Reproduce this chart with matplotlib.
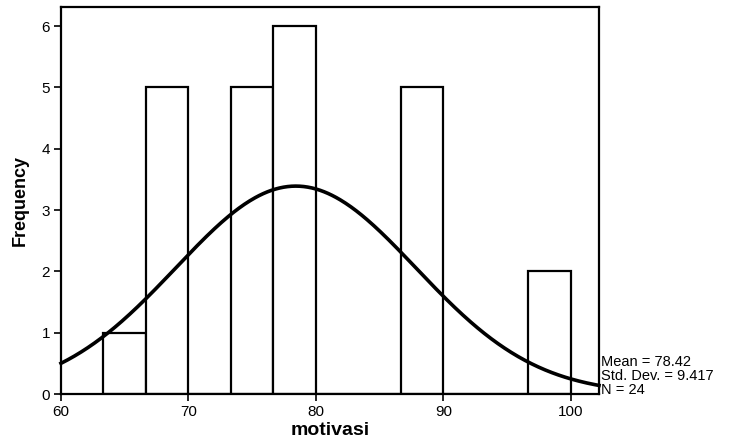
import numpy as np
import matplotlib
matplotlib.use("Agg")
import matplotlib.pyplot as plt

plt.rcParams['font.family'] = ['Liberation Sans', 'DejaVu Sans']

bin_edges = [63.333, 66.667, 70.0, 73.333, 76.667, 80.0, 83.333, 86.667, 90.0, 93.333, 96.667, 100.0]
counts = [1, 5, 0, 5, 6, 0, 0, 5, 0, 0, 2]
mean = 78.42
std = 9.417
n = 24
xticks = [60, 70, 80, 90, 100]
yticks = [0, 1, 2, 3, 4, 5, 6]

fig = plt.figure(figsize=(7.4, 4.44), dpi=100)
ax = fig.add_axes([61/740, 1-394/444, (599-61)/740, (394-7)/444])

xmin, xmax = 60, 102.2
ax.hist(np.array(bin_edges[:-1]) + 0.01, bins=bin_edges, weights=counts,
        facecolor='white', edgecolor='black', linewidth=1.6)

bw = bin_edges[1] - bin_edges[0]
xs = np.linspace(xmin, xmax, 400)
ys = n * bw * np.exp(-0.5 * ((xs - mean) / std) ** 2) / (std * np.sqrt(2 * np.pi))
ax.plot(xs, ys, color='black', linewidth=2.6, clip_on=False)

ax.set_xlim(xmin, xmax)
ax.set_ylim(0, 6.31)
ax.set_xticks(xticks)
ax.set_yticks(yticks)
for s in ax.spines.values():
    s.set_linewidth(1.6)
ax.tick_params(direction='out', length=5, width=1.2, labelsize=11, pad=3)
ax.set_xlabel('motivasi', fontsize=14, fontweight='bold', labelpad=2)
ax.set_ylabel('Frequency', fontsize=13, fontweight='bold', labelpad=9)

fig.text(601/740, 1-397/444, 'Mean = 78.42\nStd. Dev. = 9.417\nN = 24',
         fontsize=10.5, ha='left', va='bottom', linespacing=1.0)

fig.savefig('out.png', dpi=100)
